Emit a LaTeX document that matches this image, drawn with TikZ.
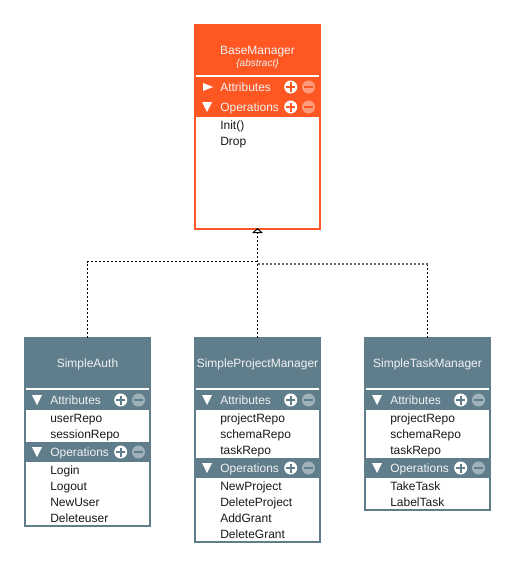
\documentclass[tikz,border=0pt]{standalone}
\usepackage{fontspec}
\setmainfont{Liberation Sans}
\usetikzlibrary{arrows.meta}

\definecolor{basecolor}{HTML}{FF5722}
\definecolor{slatecolor}{HTML}{607D8B}

\tikzset{
  classbox/.style={draw=#1, fill=#1, line width=1.5pt, minimum width=93.75pt, anchor=north west, inner sep=0pt, outer sep=0pt},
  classname/.style={text=white!95!black, font=\fontsize{9}{9}\selectfont, anchor=base, inner sep=0pt},
  rowtext/.style={font=\fontsize{9}{9}\selectfont, anchor=base west, inner sep=0pt, text=black!90},
  barlabel/.style={font=\fontsize{9}{9}\selectfont, anchor=base west, inner sep=0pt, text=white!95!black},
  inherit/.style={black, line width=0.75pt, dash pattern=on 1.5pt off 1.5pt}
}

% one bar of a class box: y, name, label, colour
\newcommand{\sectionbar}[4]{
  \node[barlabel] (#2) at (26,#1+4) {#3};
  \fill[white] (96.7,#1) circle (6.5);
  \draw[#4, line width=1.5pt] (92.2,#1) -- (101.2,#1) (96.7,#1-4.5) -- (96.7,#1+4.5);
  \fill[white, opacity=0.4] (114.5,#1) circle (6.5);
  \draw[#4, line width=1.5pt] (110,#1) -- (119,#1);
}
\newcommand{\downtri}[1]{\fill[white] (8,#1-5) -- (18,#1-5) -- (13,#1+5) -- cycle;}
\newcommand{\righttri}[1]{\fill[white] (9,#1-4) -- (19,#1) -- (9,#1+4) -- cycle;}
\newcommand{\rowband}[2]{\fill[white] (2,#1) rectangle (125,#2);}

\begin{document}
\begin{tikzpicture}[x=0.75pt, y=-0.75pt]
  \useasboundingbox (0,0) rectangle (515,567);

  % BaseManager
  \begin{scope}[shift={(194,0)}]
    \node[classbox=basecolor, minimum height=153pt] (base) at (1,25) {};
    \node[classname] (baseName) at (63.5,55) {BaseManager};
    \node[classname, font=\itshape\fontsize{7.5}{7.5}\selectfont] (baseKind) at (63.5,67) {\{abstract\}};
    \rowband{75}{77}
    \rowband{117}{228}
    \righttri{87}
    \sectionbar{87}{baseAttr}{Attributes}{basecolor}
    \downtri{107}
    \sectionbar{107}{baseOps}{Operations}{basecolor}
    \foreach \rowname/\rowy in {Init()/125, Drop/141}
      \node[rowtext] (base\rowy) at (26,\rowy+4) {\rowname};
  \end{scope}

  % SimpleAuth
  \begin{scope}[shift={(24,0)}]
    \node[classbox=slatecolor, minimum height=141pt] (auth) at (1,338) {};
    \node[classname] (authName) at (63.5,367) {SimpleAuth};
    \rowband{388}{390}
    \rowband{410}{442}
    \rowband{462}{525}
    \downtri{400}
    \sectionbar{400}{authAttr}{Attributes}{slatecolor}
    \downtri{452}
    \sectionbar{452}{authOps}{Operations}{slatecolor}
    \foreach \rowname/\rowy in {userRepo/418, sessionRepo/434, Login/470, Logout/486, NewUser/502, Deleteuser/518}
      \node[rowtext] (auth\rowy) at (26,\rowy+4) {\rowname};
  \end{scope}

  % SimpleProjectManager
  \begin{scope}[shift={(194,0)}]
    \node[classbox=slatecolor, minimum height=153pt] (project) at (1,338) {};
    \node[classname] (projectName) at (63.5,367) {SimpleProjectManager};
    \rowband{388}{390}
    \rowband{410}{458}
    \rowband{478}{541}
    \downtri{400}
    \sectionbar{400}{projectAttr}{Attributes}{slatecolor}
    \downtri{468}
    \sectionbar{468}{projectOps}{Operations}{slatecolor}
    \foreach \rowname/\rowy in {projectRepo/418, schemaRepo/434, taskRepo/450, NewProject/486, DeleteProject/502, AddGrant/518, DeleteGrant/534}
      \node[rowtext] (project\rowy) at (26,\rowy+4) {\rowname};
  \end{scope}

  % SimpleTaskManager
  \begin{scope}[shift={(364,0)}]
    \node[classbox=slatecolor, minimum height=129pt] (task) at (1,338) {};
    \node[classname] (taskName) at (63.5,367) {SimpleTaskManager};
    \rowband{388}{390}
    \rowband{410}{458}
    \rowband{478}{509}
    \downtri{400}
    \sectionbar{400}{taskAttr}{Attributes}{slatecolor}
    \downtri{468}
    \sectionbar{468}{taskOps}{Operations}{slatecolor}
    \foreach \rowname/\rowy in {projectRepo/418, schemaRepo/434, taskRepo/450, TakeTask/486, LabelTask/502}
      \node[rowtext] (task\rowy) at (26,\rowy+4) {\rowname};
  \end{scope}

  % inheritance lines
  \coordinate (authJoin) at (257.5,261.5);
  \coordinate (taskJoin) at (257.5,264);
  \coordinate (taskCorner) at (task.north |- taskJoin);
  \draw[inherit] (auth.north) |- (authJoin);
  \draw[inherit] (task.north) -- (taskCorner);
  \draw[inherit, black!60, line width=1.1pt] (taskCorner) -- (taskJoin);
  \draw[inherit, shorten >=-0.75pt, -{Triangle[open, length=3.75pt, width=8pt, line width=0.75pt, sep=0pt]}] (project.north) -- (base.south);
\end{tikzpicture}
\end{document}
